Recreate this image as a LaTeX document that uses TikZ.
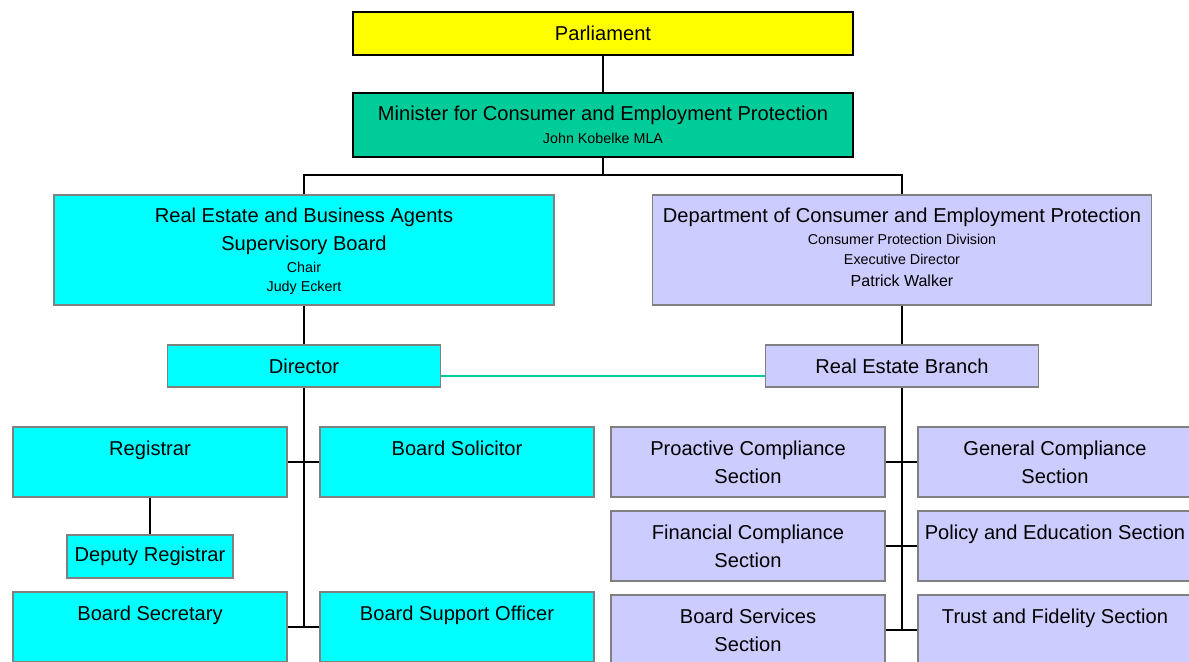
\documentclass[tikz,border=0pt]{standalone}
\usepackage{fontspec}
\setmainfont{Liberation Sans}
\usepackage{tikz}
\usetikzlibrary{positioning}
\definecolor{orgyellow}{HTML}{FFFF00}
\definecolor{orggreen}{HTML}{00CC99}
\definecolor{orgcyan}{HTML}{00FFFF}
\definecolor{orglilac}{HTML}{CCCCFF}
\definecolor{orggrey}{HTML}{808080}
\newcommand{\headfont}{\fontsize{20.1bp}{28bp}\selectfont}
\newcommand{\notefont}{\fontsize{14.3bp}{20bp}\selectfont}
\newcommand{\namefont}{\fontsize{16bp}{21bp}\selectfont}

\begin{document}
\begin{tikzpicture}[x=1bp, y=-1bp, node distance=36.5bp and 31.5bp,
  box/.style={draw=orggrey, line width=1.5bp, align=center, inner sep=2bp, font=\headfont},
  wide/.style={box, minimum width=500bp},
  post/.style={box, minimum width=273bp, minimum height=42bp},
  unit/.style={box, minimum width=274bp, minimum height=70bp},
  link/.style={draw=black, line width=1.4bp}]
  \clip (0,0) rectangle (1189,662);
  % top of the chart
  \node[wide, draw=black, fill=orgyellow, minimum height=43bp] (parl) at (603,33.5) {Parliament};
  \node[wide, draw=black, fill=orggreen, minimum height=64bp, below=of parl] (min)
    {Minister for Consumer and Employment Protection\\[-5.25bp]{\notefont John Kobelke MLA}};
  \node[wide, fill=orgcyan, minimum height=110bp, text depth=0bp] (board) at (304,250)
    {Real Estate and Business Agents\\Supervisory Board\\[-6bp]{\notefont Chair}\\[-8.75bp]{\notefont Judy Eckert}};
  \node[wide, fill=orglilac, minimum height=110bp, minimum width=499bp, text depth=5.5bp, right=97bp of board] (dept)
    {Department of Consumer and Employment Protection\\[-6bp]{\notefont Consumer Protection Division}\\[-8bp]{\notefont Executive Director}\\[-6.25bp]{\namefont Patrick Walker}};
  \node[post, fill=orgcyan, below=38.5bp of board] (dir) {Director};
  \node[post, fill=orglilac, below=38.5bp of dept] (reb) {Real Estate Branch};
  % board staff
  \node[unit, fill=orgcyan] (reg) at (150,462) {Registrar\\\mbox{}};
  \node[unit, fill=orgcyan, right=of reg] (sol) {Board Solicitor\\\mbox{}};
  \node[box, fill=orgcyan, minimum width=166bp, minimum height=43bp, below=of reg] (dep) {Deputy Registrar};
  \node[unit, fill=orgcyan, below=12.5bp of dep] (sec) {Board Secretary\\\mbox{}};
  \node[unit, fill=orgcyan, right=of sec] (sup) {Board Support Officer\\\mbox{}};
  % branch sections
  \node[unit, fill=orglilac] (pro) at (748,462) {Proactive Compliance\\Section};
  \node[unit, fill=orglilac, right=of pro] (gen) {General Compliance\\Section};
  \node[unit, fill=orglilac, below=12.5bp of pro] (fin) {Financial Compliance\\Section};
  \node[unit, fill=orglilac, right=of fin] (pol) {Policy and Education Section\\\mbox{}};
  \node[unit, fill=orglilac, below=12.5bp of fin] (bsv) {Board Services\\Section};
  \node[unit, fill=orglilac, right=of bsv] (tru) {Trust and Fidelity Section\\\mbox{}};

  \coordinate (bus) at (603,175);
  \draw[link] (parl) -- (min);
  \draw[link] (min) -- (bus);
  \draw[link] (board.north) |- (bus) -| (dept.north);
  \draw[link] (board) -- (dir);
  \draw[link] (dept) -- (reb);
  \draw[link, draw=orggreen, line width=2bp] ([yshift=-10bp]dir.east) -- ([yshift=-10bp]reb.west);
  \draw[link] (dir) -- (dir |- sec.east);
  \draw[link] (reg) -- (sol);
  \draw[link] (reg) -- (dep);
  \draw[link] (sec) -- (sup);
  \draw[link, line width=2.2bp] (reb) -- (reb |- bsv.east);
  \draw[link] (pro) -- (gen);
  \draw[link] (fin) -- (pol);
  \draw[link] (bsv) -- (tru);
\end{tikzpicture}
\end{document}
